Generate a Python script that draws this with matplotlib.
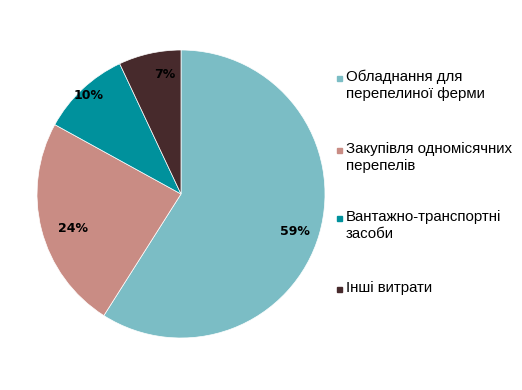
import matplotlib
matplotlib.use('Agg')
import matplotlib.pyplot as plt
from matplotlib.patches import Rectangle
import numpy as np

# дані
labels = ['Обладнання для\nперепелиної ферми',
          'Закупівля одномісячних\nперепелів',
          'Вантажно-транспортні\nзасоби',
          'Інші витрати']
values = [59, 24, 10, 7]
colors = ['#7bbdc5', '#c98c84', '#00919c', '#472a2c']

W, H = 522, 390
fig = plt.figure(figsize=(W / 100, H / 100), dpi=100)

# пиріг: центр (181,194), радіус 144 px
cx, cy, r = 181, 194, 144
ax = fig.add_axes([(cx - r) / W, (H - cy - r) / H, 2 * r / W, 2 * r / H])
wedges, _ = ax.pie(values, colors=colors, startangle=90, counterclock=False,
                   radius=1, wedgeprops=dict(linewidth=0.5, edgecolor='white'))
ax.set_xlim(-1, 1)
ax.set_ylim(-1, 1)
ax.set_aspect('equal')
ax.axis('off')

# підписи відсотків (відстань від центру і зсув кута, як в Excel)
dists = [0.83, 0.79, 0.94, 0.84]
shifts = [-2, 3.4, 0, -5]
for w, v, d, s in zip(wedges, values, dists, shifts):
    ang = np.deg2rad((w.theta1 + w.theta2) / 2 + s)
    ax.text(d * np.cos(ang), d * np.sin(ang), f'{v}%', ha='center', va='center',
            fontsize=9, fontweight='bold', family='DejaVu Sans', color='black')

# легенда вручну (маркер біля першого рядка)
baselines = [81, 153, 221, 292]
for lab, col, b in zip(labels, colors, baselines):
    fig.patches.append(Rectangle((337 / W, (H - b) / H), 5 / W, 5 / H,
                                 transform=fig.transFigure, color=col))
    lines = lab.split('\n')
    for i, line in enumerate(lines):
        fig.text(346 / W, (H - b - i * 17) / H, line, ha='left', va='baseline',
                 fontsize=10.8, family='Liberation Sans', color='black')

fig.savefig('out.png', dpi=100)
